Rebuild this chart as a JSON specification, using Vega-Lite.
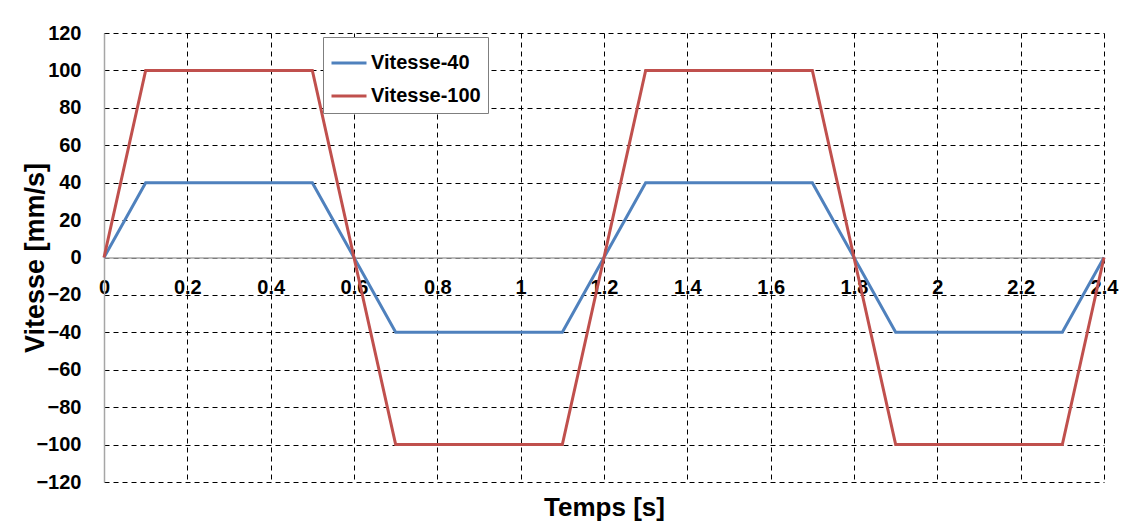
{
  "$schema": "https://vega.github.io/schema/vega-lite/v6.json",
  "autosize": "none",
  "padding": {"left": 104, "top": 33, "right": 33, "bottom": 49},
  "width": 1000,
  "height": 449,
  "background": "white",
  "config": {
    "font": "Liberation Sans",
    "view": {"stroke": null},
    "axis": {"labelFont": "Liberation Sans", "titleFont": "Liberation Sans"}
  },
  "data": {
    "values": [
      {"t": 0, "v": 0, "s": "Vitesse-40"},
      {"t": 0.1, "v": 40, "s": "Vitesse-40"},
      {"t": 0.5, "v": 40, "s": "Vitesse-40"},
      {"t": 0.7, "v": -40, "s": "Vitesse-40"},
      {"t": 1.1, "v": -40, "s": "Vitesse-40"},
      {"t": 1.3, "v": 40, "s": "Vitesse-40"},
      {"t": 1.7, "v": 40, "s": "Vitesse-40"},
      {"t": 1.9, "v": -40, "s": "Vitesse-40"},
      {"t": 2.3, "v": -40, "s": "Vitesse-40"},
      {"t": 2.4, "v": 0, "s": "Vitesse-40"},
      {"t": 0, "v": 0, "s": "Vitesse-100"},
      {"t": 0.1, "v": 100, "s": "Vitesse-100"},
      {"t": 0.5, "v": 100, "s": "Vitesse-100"},
      {"t": 0.7, "v": -100, "s": "Vitesse-100"},
      {"t": 1.1, "v": -100, "s": "Vitesse-100"},
      {"t": 1.3, "v": 100, "s": "Vitesse-100"},
      {"t": 1.7, "v": 100, "s": "Vitesse-100"},
      {"t": 1.9, "v": -100, "s": "Vitesse-100"},
      {"t": 2.3, "v": -100, "s": "Vitesse-100"},
      {"t": 2.4, "v": 0, "s": "Vitesse-100"}
    ]
  },
  "mark": {"type": "line", "strokeWidth": 3},
  "encoding": {
    "x": {
      "field": "t",
      "type": "quantitative",
      "scale": {"domain": [0, 2.4], "nice": false, "zero": false},
      "axis": {
        "title": "Temps [s]",
        "titleFontSize": 26,
        "titleFontWeight": "bold",
        "titleColor": "black",
        "titleX": 500,
        "titleY": 250,
        "titleBaseline": "middle",
        "titleAlign": "center",
        "values": [0, 0.2, 0.4, 0.6, 0.8, 1, 1.2, 1.4, 1.6, 1.8, 2, 2.2, 2.4],
        "format": "~g",
        "offset": -224.5,
        "ticks": false,
        "labelPadding": 20,
        "labelFontSize": 20,
        "labelFontWeight": "bold",
        "labelColor": "black",
        "labelFlush": false,
        "labelOverlap": false,
        "domainColor": "#a6a6a6",
        "domainWidth": 1.5,
        "grid": true,
        "gridColor": "black",
        "gridDash": [5, 4],
        "gridWidth": 1
      }
    },
    "y": {
      "field": "v",
      "type": "quantitative",
      "scale": {"domain": [-120, 120], "nice": false},
      "axis": {
        "title": "Vitesse [mm/s]",
        "titleFontSize": 27,
        "titleFontWeight": "bold",
        "titleColor": "black",
        "titleX": -69,
        "titleY": 224.5,
        "titleAngle": 270,
        "titleAlign": "center",
        "titleBaseline": "middle",
        "values": [-120, -100, -80, -60, -40, -20, 0, 20, 40, 60, 80, 100, 120],
        "ticks": false,
        "labelPadding": 23,
        "labelFontSize": 20,
        "labelFontWeight": "bold",
        "labelColor": "black",
        "labelFlush": false,
        "labelOverlap": false,
        "domainColor": "#a6a6a6",
        "domainWidth": 1.5,
        "grid": true,
        "gridColor": "black",
        "gridDash": [5, 4],
        "gridWidth": 1
      }
    },
    "color": {
      "field": "s",
      "type": "nominal",
      "scale": {"domain": ["Vitesse-40", "Vitesse-100"], "range": ["#4F81BD", "#C0504D"]},
      "legend": {
        "title": null,
        "orient": "none",
        "legendX": 219,
        "legendY": 4,
        "fillColor": "white",
        "strokeColor": "#7f7f7f",
        "padding": 7,
        "symbolType": "stroke",
        "symbolSize": 1225,
        "symbolStrokeWidth": 3,
        "labelFontSize": 20,
        "labelFontWeight": "bold",
        "labelColor": "black",
        "labelOffset": 3,
        "rowPadding": 4
      }
    }
  }
}
